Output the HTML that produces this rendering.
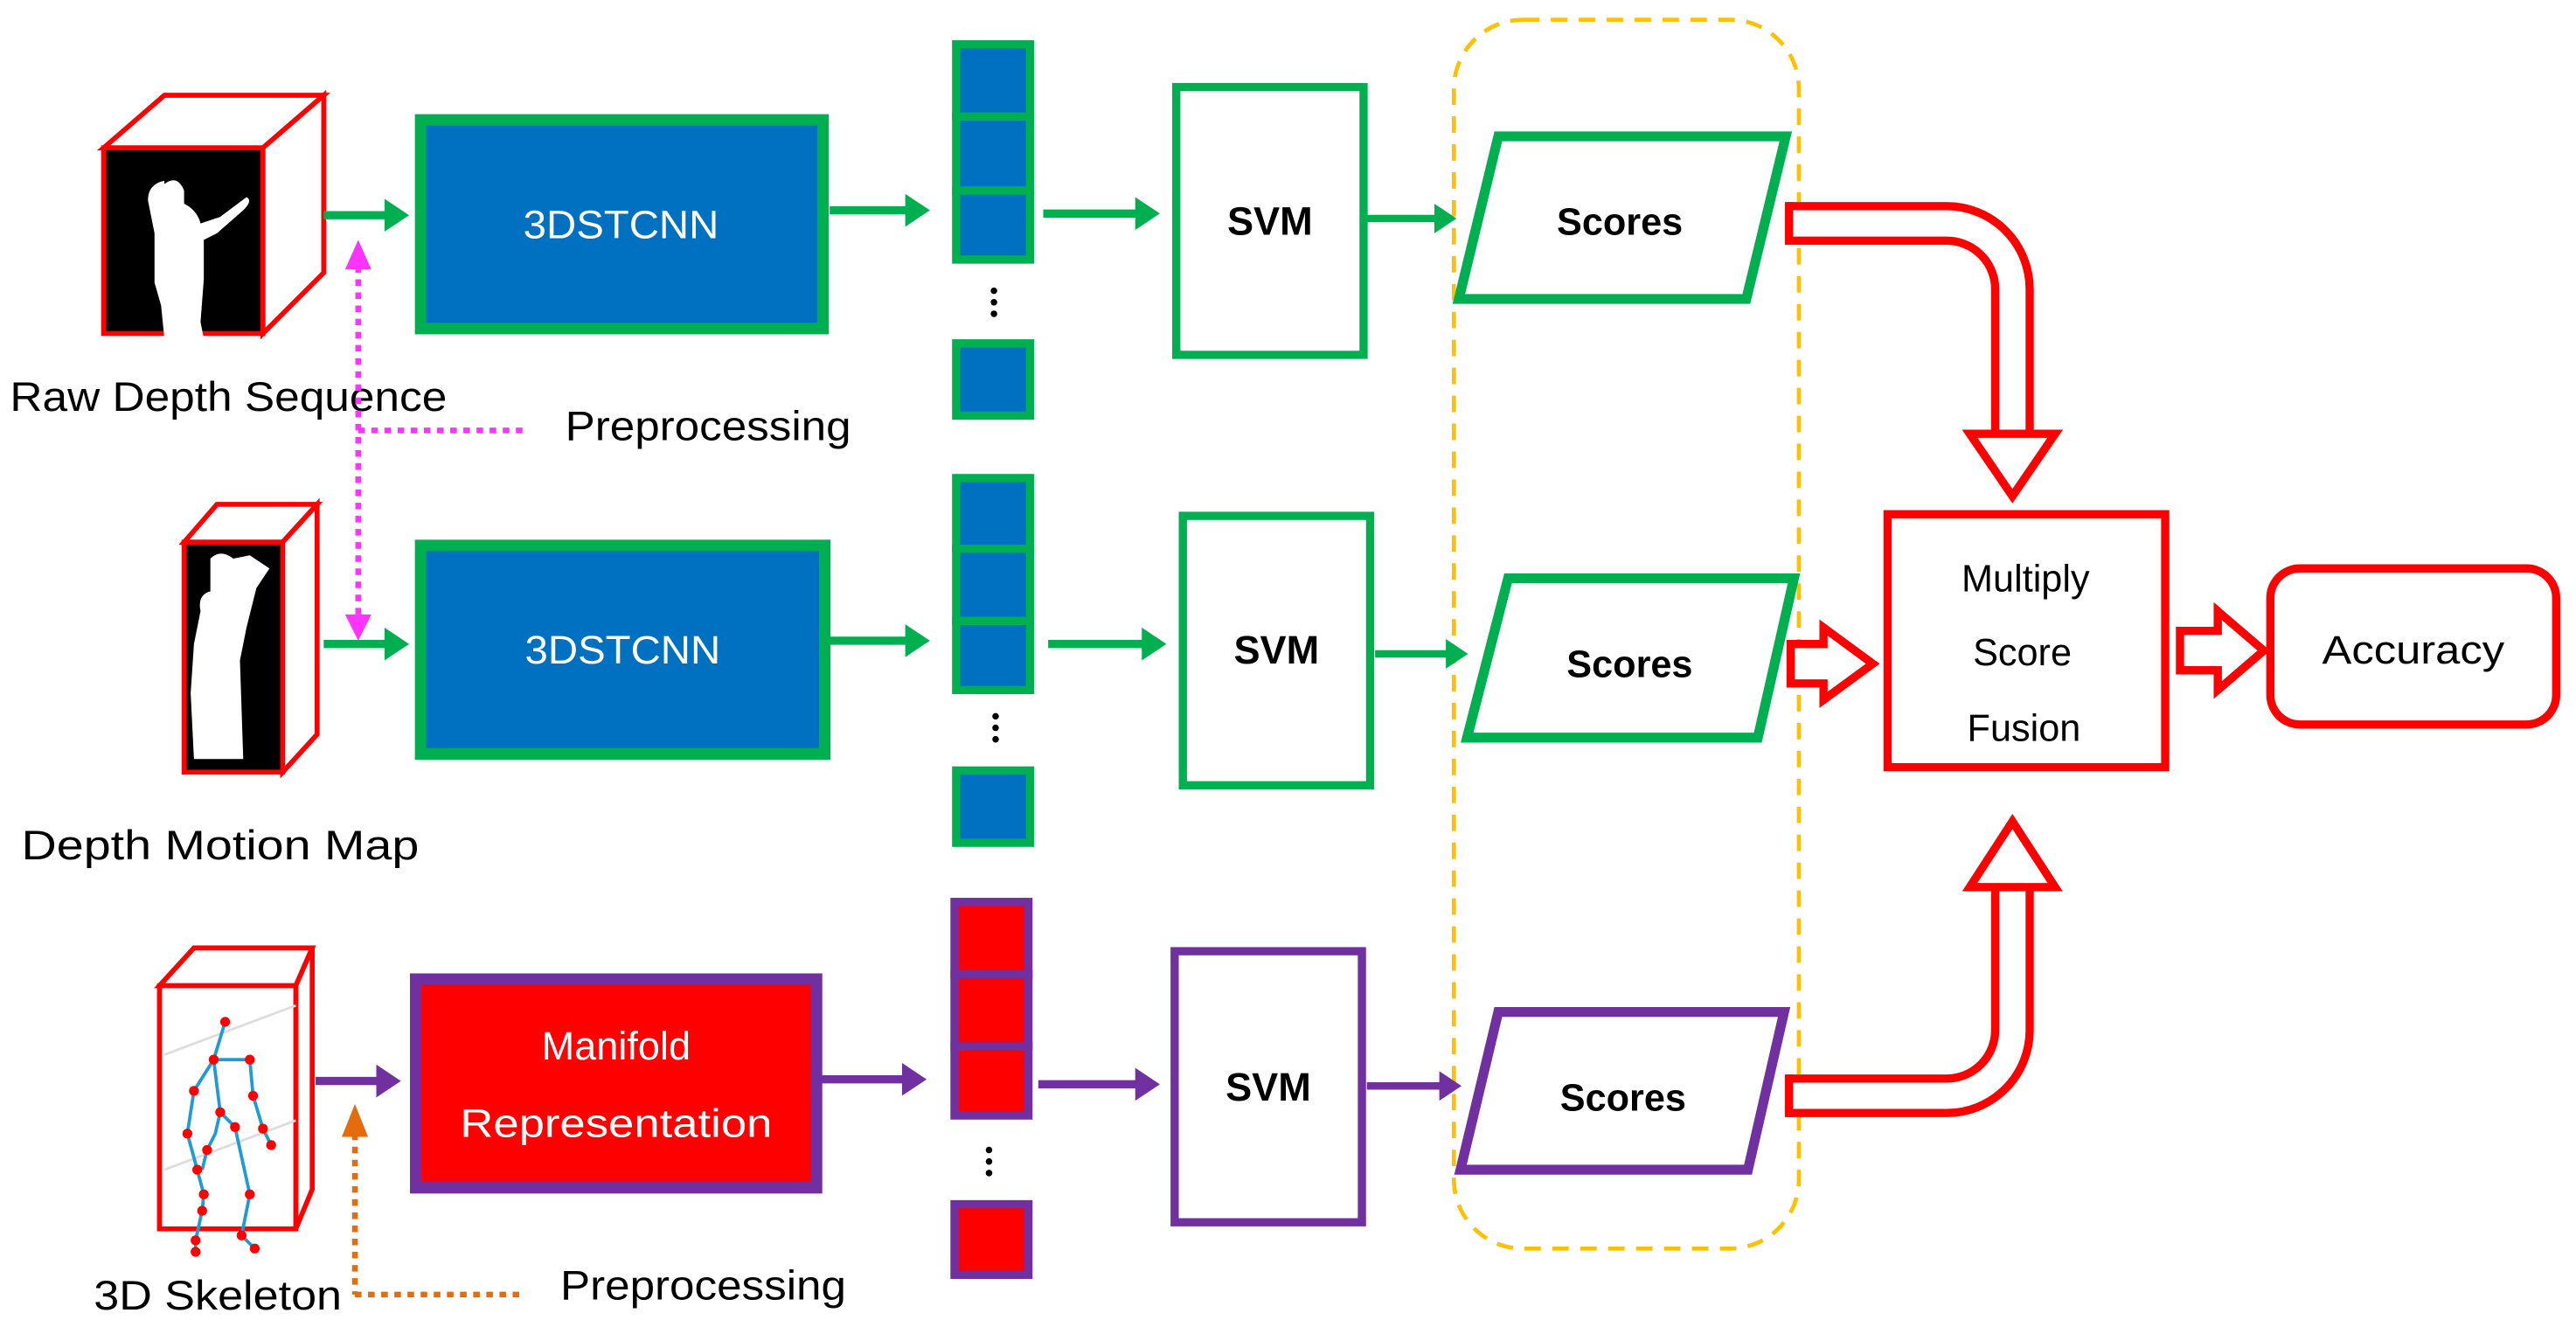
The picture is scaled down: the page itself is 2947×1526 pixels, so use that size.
<!DOCTYPE html>
<html><head><meta charset="utf-8"><style>
html,body{margin:0;padding:0;background:#fff;}
svg{display:block;}
text{font-family:"Liberation Sans",sans-serif;}
</style></head><body>
<svg width="2947" height="1526" viewBox="0 0 1568 812" xmlns="http://www.w3.org/2000/svg">
<defs>
<marker id="g" markerWidth="4" markerHeight="4" refX="2.2" refY="2" orient="auto" markerUnits="strokeWidth"><path d="M0,0 L3,2 L0,4 z" fill="#00B050"/></marker>
<marker id="p" markerWidth="4" markerHeight="4" refX="2.2" refY="2" orient="auto" markerUnits="strokeWidth"><path d="M0,0 L3,2 L0,4 z" fill="#7030A0"/></marker>
</defs>
<rect width="1568" height="812" fill="#fff"/>

<!-- dashed group -->
<rect x="885" y="12" width="210" height="748" rx="42" fill="none" stroke="#FFC000" stroke-width="2.5" stroke-dasharray="10,7"/>

<!-- cube 1 -->
<polygon points="63,90 100,58 197,58 160,90" fill="#fff" stroke="#f00" stroke-width="3"/>
<polygon points="160,90 197,58 197,166 160,203" fill="#fff" stroke="#f00" stroke-width="3"/>
<rect x="63" y="90" width="97" height="113" fill="#000" stroke="#f00" stroke-width="3"/>
<path d="M100,112 q8,-6 12,4 l0,8 q8,4 10,12 l12,-4 q8,-6 16,-12 q4,2 -2,8 l-16,14 l-8,4 l0,24 l-2,26 l2,10 l-24,0 l-2,-20 l-4,-14 l0,-30 l-4,-20 q0,-10 10,-12 z" fill="#fff"/>

<!-- cube 2 -->
<polygon points="112,330 132,307 193,307 172,330" fill="#fff" stroke="#f00" stroke-width="3"/>
<polygon points="172,330 193,307 193,447 172,470" fill="#fff" stroke="#f00" stroke-width="3"/>
<rect x="112" y="330" width="60" height="140" fill="#000" stroke="#f00" stroke-width="3"/>
<path d="M128,340 q6,-6 14,0 l10,-2 l12,8 l-8,12 l-6,24 l-4,20 l2,60 l-30,0 l-2,-40 l2,-30 l4,-20 q-2,-10 6,-12 z" fill="#fff"/>

<!-- cube 3 skeleton -->
<polygon points="97,600 118,577 190,577 180,600" fill="#fff" stroke="#f00" stroke-width="3"/>
<polygon points="180,600 190,577 190,724 180,748" fill="#fff" stroke="#f00" stroke-width="3"/>
<rect x="97" y="600" width="83" height="148" fill="#fff" stroke="#f00" stroke-width="3"/>
<line x1="100" y1="642" x2="180" y2="612" stroke="#ddd" stroke-width="1.5"/>
<line x1="100" y1="712" x2="180" y2="682" stroke="#ddd" stroke-width="1.5"/>
<g stroke="#1E9BD7" stroke-width="2" fill="none">
<path d="M137,622 L130,645 L152,645 L154,667 L160,687 L165,697"/>
<path d="M130,645 L118,664 L114,690 L120,712 L124,727 L123,737 L119,755 L119,762"/>
<path d="M130,645 L134,677 L131,690 L126,700 L123,712"/>
<path d="M134,677 L143,686 L152,727 L147,752 L155,760"/>
</g>
<g fill="#f00">
<circle cx="137" cy="622" r="3"/><circle cx="130" cy="645" r="3"/><circle cx="152" cy="645" r="3"/><circle cx="154" cy="667" r="3"/><circle cx="160" cy="687" r="3"/><circle cx="165" cy="697" r="3"/><circle cx="118" cy="664" r="3"/><circle cx="114" cy="690" r="3"/><circle cx="120" cy="712" r="3"/><circle cx="124" cy="727" r="3"/><circle cx="123" cy="737" r="3"/><circle cx="119" cy="755" r="3"/><circle cx="119" cy="762" r="3"/><circle cx="134" cy="677" r="3"/><circle cx="143" cy="686" r="3"/><circle cx="126" cy="700" r="3"/><circle cx="152" cy="727" r="3"/><circle cx="147" cy="752" r="3"/><circle cx="155" cy="760" r="3"/>
</g>

<!-- labels -->
<text x="6" y="250" font-size="25" textLength="266" lengthAdjust="spacingAndGlyphs">Raw Depth Sequence</text>
<text x="13" y="523" font-size="25" textLength="242" lengthAdjust="spacingAndGlyphs">Depth Motion Map</text>
<text x="57" y="797" font-size="25" textLength="151" lengthAdjust="spacingAndGlyphs">3D Skeleton</text>
<text x="344" y="268" font-size="25" textLength="174" lengthAdjust="spacingAndGlyphs">Preprocessing</text>
<text x="341" y="791" font-size="25" textLength="174" lengthAdjust="spacingAndGlyphs">Preprocessing</text>

<!-- preprocessing connectors -->
<line x1="218" y1="162" x2="218" y2="376" stroke="#FF33FF" stroke-width="3.5" stroke-dasharray="4,4"/>
<polygon points="210,164 226,164 218,146" fill="#FF33FF"/>
<polygon points="210,374 226,374 218,390" fill="#FF33FF"/>
<line x1="218" y1="262" x2="322" y2="262" stroke="#FF33FF" stroke-width="3.5" stroke-dasharray="4,4"/>
<line x1="216" y1="690" x2="216" y2="788" stroke="#E46C0A" stroke-width="3.5" stroke-dasharray="4,4"/>
<line x1="216" y1="788" x2="320" y2="788" stroke="#E46C0A" stroke-width="3.5" stroke-dasharray="4,4"/>
<polygon points="208,692 224,692 216,672" fill="#E46C0A"/>

<!-- row1 -->
<line x1="197" y1="131" x2="245" y2="131" stroke="#00B050" stroke-width="5" marker-end="url(#g)"/>
<rect x="256" y="73" width="245" height="127" fill="#0070C0" stroke="#00B050" stroke-width="7"/>
<text x="378" y="145" font-size="24" fill="#fff" text-anchor="middle" textLength="119" lengthAdjust="spacingAndGlyphs">3DSTCNN</text>
<line x1="505" y1="128" x2="562" y2="128" stroke="#00B050" stroke-width="5" marker-end="url(#g)"/>
<g fill="#0070C0" stroke="#00B050" stroke-width="5">
<rect x="582" y="27" width="45" height="44"/><rect x="582" y="71" width="45" height="45"/><rect x="582" y="116" width="45" height="42"/>
<rect x="582" y="209" width="45" height="44"/>
</g>
<g fill="#000"><circle cx="605" cy="177" r="2"/><circle cx="605" cy="184" r="2"/><circle cx="605" cy="191" r="2"/></g>
<line x1="635" y1="130" x2="702" y2="130" stroke="#00B050" stroke-width="5" marker-end="url(#g)"/>
<rect x="716" y="53" width="114" height="163" fill="#fff" stroke="#00B050" stroke-width="5"/>
<text x="773" y="143" font-size="24" font-weight="bold" text-anchor="middle">SVM</text>
<line x1="832" y1="133" x2="883" y2="133" stroke="#00B050" stroke-width="4.5" marker-end="url(#g)"/>
<polygon points="912,83 1087,83 1063,182 888,182" fill="#fff" stroke="#00B050" stroke-width="6"/>
<text x="986" y="143" font-size="23" font-weight="bold" text-anchor="middle">Scores</text>

<!-- row2 -->
<line x1="197" y1="392" x2="245" y2="392" stroke="#00B050" stroke-width="5" marker-end="url(#g)"/>
<rect x="256" y="332" width="246" height="127" fill="#0070C0" stroke="#00B050" stroke-width="7"/>
<text x="379" y="404" font-size="24" fill="#fff" text-anchor="middle" textLength="119" lengthAdjust="spacingAndGlyphs">3DSTCNN</text>
<line x1="505" y1="390" x2="562" y2="390" stroke="#00B050" stroke-width="5" marker-end="url(#g)"/>
<g fill="#0070C0" stroke="#00B050" stroke-width="5">
<rect x="582" y="291" width="45" height="43"/><rect x="582" y="334" width="45" height="44"/><rect x="582" y="378" width="45" height="42"/>
<rect x="582" y="469" width="45" height="44"/>
</g>
<g fill="#000"><circle cx="606" cy="436" r="2"/><circle cx="606" cy="443" r="2"/><circle cx="606" cy="450" r="2"/></g>
<line x1="638" y1="392" x2="706" y2="392" stroke="#00B050" stroke-width="5" marker-end="url(#g)"/>
<rect x="720" y="314" width="114" height="164" fill="#fff" stroke="#00B050" stroke-width="5"/>
<text x="777" y="404" font-size="24" font-weight="bold" text-anchor="middle">SVM</text>
<line x1="837" y1="398" x2="890" y2="398" stroke="#00B050" stroke-width="4.5" marker-end="url(#g)"/>
<polygon points="918,352 1092,352 1070,449 893,449" fill="#fff" stroke="#00B050" stroke-width="6"/>
<text x="992" y="412" font-size="23" font-weight="bold" text-anchor="middle">Scores</text>

<!-- row3 -->
<line x1="192" y1="658" x2="240" y2="658" stroke="#7030A0" stroke-width="5" marker-end="url(#p)"/>
<rect x="253" y="596" width="244" height="127" fill="#f00" stroke="#7030A0" stroke-width="7"/>
<text x="375" y="645" font-size="24" fill="#fff" text-anchor="middle">Manifold</text>
<text x="375" y="692" font-size="24" fill="#fff" text-anchor="middle" textLength="190" lengthAdjust="spacingAndGlyphs">Representation</text>
<line x1="500" y1="657" x2="560" y2="657" stroke="#7030A0" stroke-width="5" marker-end="url(#p)"/>
<g fill="#f00" stroke="#7030A0" stroke-width="5">
<rect x="581" y="549" width="45" height="44"/><rect x="581" y="593" width="45" height="44"/><rect x="581" y="637" width="45" height="42"/>
<rect x="581" y="733" width="45" height="43"/>
</g>
<g fill="#000"><circle cx="602" cy="700" r="2"/><circle cx="602" cy="707" r="2"/><circle cx="602" cy="714" r="2"/></g>
<line x1="632" y1="660" x2="702" y2="660" stroke="#7030A0" stroke-width="5" marker-end="url(#p)"/>
<rect x="715" y="579" width="114" height="165" fill="#fff" stroke="#7030A0" stroke-width="5"/>
<text x="772" y="670" font-size="24" font-weight="bold" text-anchor="middle">SVM</text>
<line x1="832" y1="661" x2="886" y2="661" stroke="#7030A0" stroke-width="4.5" marker-end="url(#p)"/>
<polygon points="912,616 1086,616 1064,712 889,712" fill="#fff" stroke="#7030A0" stroke-width="6"/>
<text x="988" y="676" font-size="23" font-weight="bold" text-anchor="middle">Scores</text>

<!-- hollow curved arrows -->
<path d="M1088,136 H1185 A40,40 0 0 1 1225,176 V264" fill="none" stroke="#f00" stroke-width="26"/>
<path d="M1091,136 H1185 A40,40 0 0 1 1225,176 V268" fill="none" stroke="#fff" stroke-width="16"/>
<polygon points="1199,264 1251,264 1225,302" fill="#fff" stroke="#f00" stroke-width="5"/>
<path d="M1088,667 H1185 A40,40 0 0 0 1225,627 V540" fill="none" stroke="#f00" stroke-width="26"/>
<path d="M1091,667 H1185 A40,40 0 0 0 1225,627 V536" fill="none" stroke="#fff" stroke-width="16"/>
<polygon points="1199,540 1251,540 1225,500" fill="#fff" stroke="#f00" stroke-width="5"/>
<line x1="1089" y1="123" x2="1089" y2="149" stroke="#f00" stroke-width="5"/>
<line x1="1089" y1="654" x2="1089" y2="680" stroke="#f00" stroke-width="5"/>

<!-- straight hollow arrows -->
<polygon points="1090,392 1110,392 1110,382 1140,404 1110,426 1110,416 1090,416" fill="#fff" stroke="#f00" stroke-width="5"/>
<polygon points="1327,384 1350,384 1350,372 1378,396 1350,420 1350,408 1327,408" fill="#fff" stroke="#f00" stroke-width="5"/>

<!-- fusion -->
<rect x="1149" y="313" width="169" height="154" fill="#fff" stroke="#f00" stroke-width="5"/>
<text x="1233" y="360" font-size="23" text-anchor="middle">Multiply</text>
<text x="1231" y="405" font-size="23" text-anchor="middle">Score</text>
<text x="1232" y="451" font-size="23" text-anchor="middle">Fusion</text>
<rect x="1382" y="346" width="174" height="95" rx="18" fill="#fff" stroke="#f00" stroke-width="5"/>
<text x="1469" y="404" font-size="24" text-anchor="middle" textLength="111" lengthAdjust="spacingAndGlyphs">Accuracy</text>
</svg>
</body></html>
